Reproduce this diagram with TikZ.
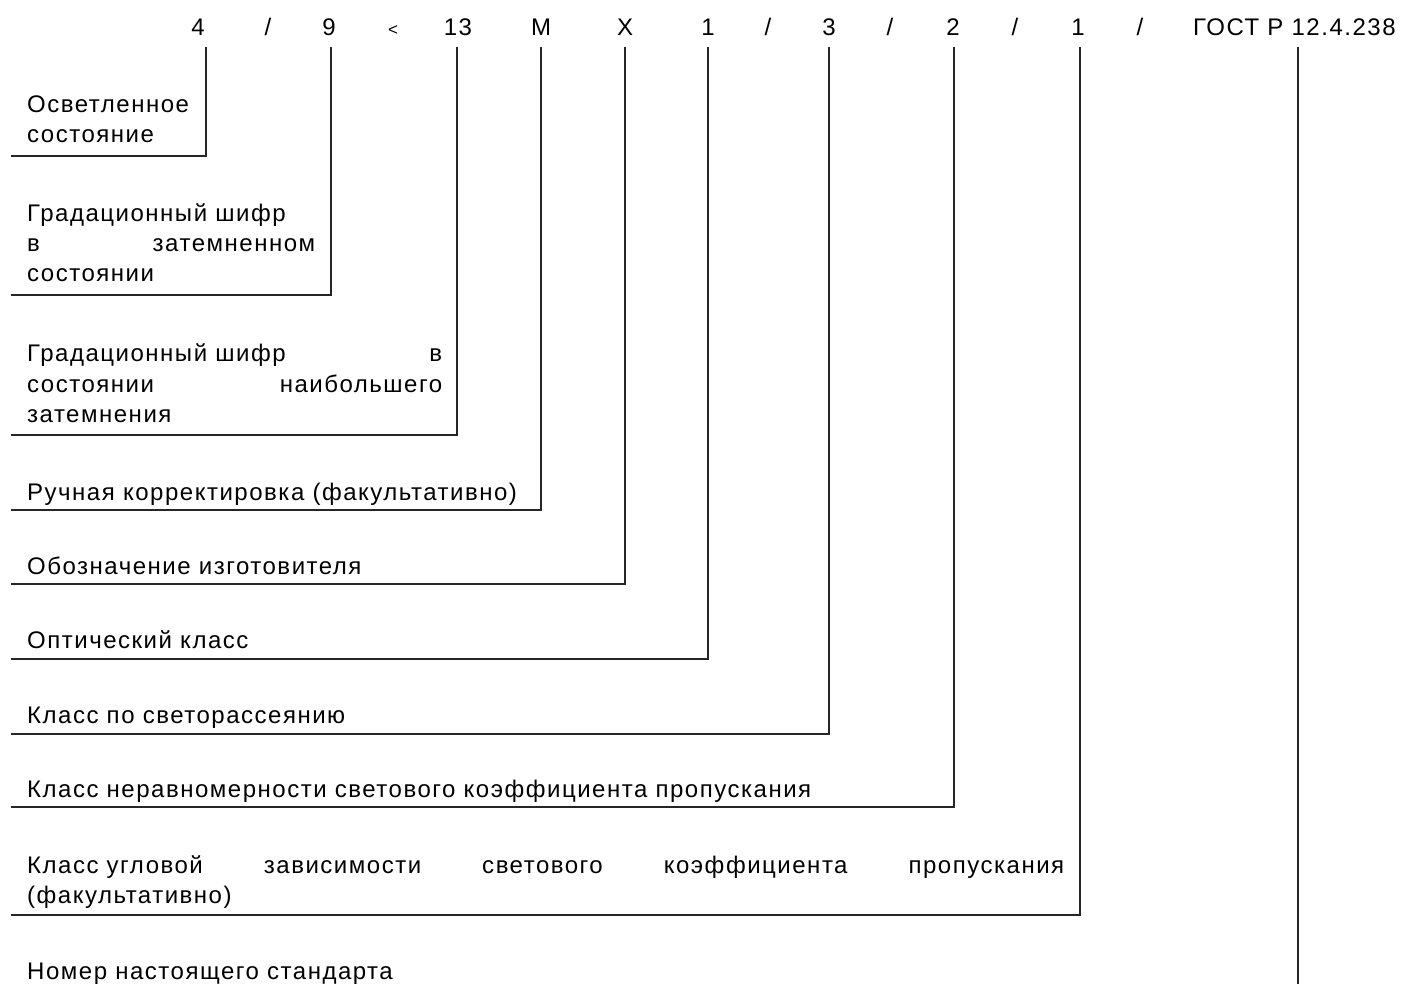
\documentclass[tikz,border=0pt]{standalone}
\usepackage{fontspec}
\setmainfont{Liberation Sans}[LetterSpace=6.3]
\begin{document}
\begin{tikzpicture}[x=1pt,y=-1pt,
  code/.style={anchor=base,inner sep=0pt,font=\fontsize{24}{30}\selectfont},
  lbl/.style={anchor=base west,inner sep=0pt,font=\fontsize{24}{30}\selectfont},
  conn/.style={draw=black!85,line width=1.3pt}]
\useasboundingbox (0,0) rectangle (1401,984);
% code line
\node[code] (c1) at (198,36) {4};
\node[code] (s1) at (268,36) {/};
\node[code] (c2) at (329,36) {9};
\node[code] (s2) at (393,36) {\fontsize{17}{20}\selectfont<};
\node[code] (c3) at (458,36) {13};
\node[code] (c4) at (541,36) {M};
\node[code] (c5) at (625,36) {X};
\node[code] (c6) at (708,36) {1};
\node[code] (s3) at (768,36) {/};
\node[code] (c7) at (829,36) {3};
\node[code] (s4) at (890,36) {/};
\node[code] (c8) at (953,36) {2};
\node[code] (s5) at (1015,36) {/};
\node[code] (c9) at (1078,36) {1};
\node[code] (s6) at (1140,36) {/};
\node[code,anchor=base west] (c10) at (1193,36) {ГОСТ Р 12.4.238};
% labels
\node[lbl] (l1a) at (27,113) {Осветленное};
\node[lbl] (l1b) at (27,143) {состояние};
\node[lbl] (l2a) at (27,222) {Градационный шифр};
\node[lbl] (l2b) at (27,252) {\makebox[288pt][s]{в затемненном}};
\node[lbl] (l2c) at (27,282) {состоянии};
\node[lbl] (l3a) at (27,362) {\makebox[415pt][l]{Градационный шифр\hfill в}};
\node[lbl] (l3b) at (27,392) {\makebox[415pt][s]{состоянии наибольшего}};
\node[lbl] (l3c) at (27,422) {затемнения};
\node[lbl] (l4) at (27,500) {Ручная корректировка (факультативно)};
\node[lbl] (l5) at (27,574) {Обозначение изготовителя};
\node[lbl] (l6) at (27,648) {Оптический класс};
\node[lbl] (l7) at (27,723) {Класс по светорассеянию};
\node[lbl] (l8) at (27,797) {Класс неравномерности светового коэффициента пропускания};
\node[lbl] (l9a) at (27,873) {\makebox[1037pt][l]{Класс угловой\hfill зависимости\hfill светового\hfill коэффициента\hfill пропускания}};
\node[lbl] (l9b) at (27,903) {(факультативно)};
\node[lbl] (l10) at (27,979) {Номер настоящего стандарта};
% corners and free ends
\coordinate (k1) at (206,156);  \coordinate (e1) at (11,156);
\coordinate (k2) at (331,295);  \coordinate (e2) at (11,295);
\coordinate (k3) at (457,435);  \coordinate (e3) at (11,435);
\coordinate (k4) at (541,510);  \coordinate (e4) at (11,510);
\coordinate (k5) at (625,584);  \coordinate (e5) at (11,584);
\coordinate (k6) at (708,659);  \coordinate (e6) at (11,659);
\coordinate (k7) at (829,734);  \coordinate (e7) at (11,734);
\coordinate (k8) at (954,807);  \coordinate (e8) at (11,807);
\coordinate (k9) at (1080,915); \coordinate (e9) at (11,915);
\coordinate (e10) at (1298,986);
% connectors
\foreach \i in {1,...,9}
  \draw[conn] (k\i |- c\i.south) ++(0,11) -- (k\i) -- (e\i);
\draw[conn] (e10 |- c10.south) ++(0,11) -- (e10);
\end{tikzpicture}
\end{document}
